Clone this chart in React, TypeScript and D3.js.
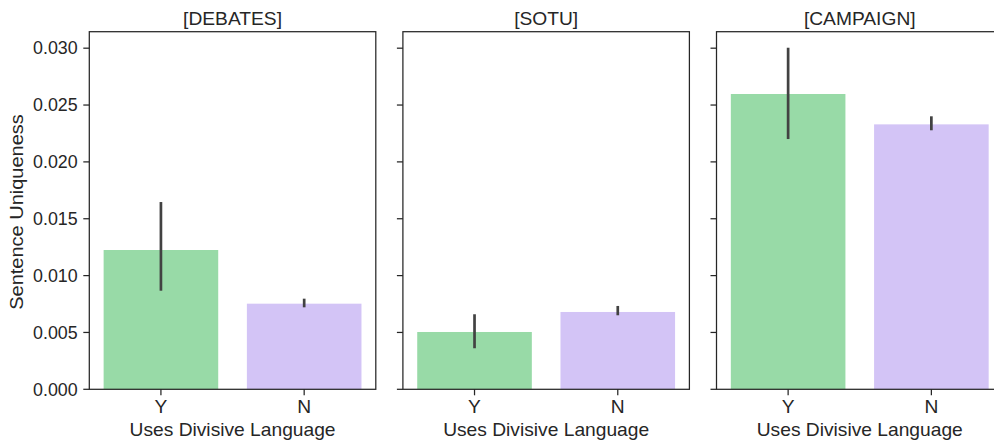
import React from "react";
import * as d3 from "d3";

const panels = ["[DEBATES]", "[SOTU]", "[CAMPAIGN]"];
const categories = ["Y", "N"];
const means = [
  [0.01225, 0.00753],
  [0.00504, 0.0068],
  [0.02597, 0.0233],
];
const ciLow = [
  [0.00867, 0.00721],
  [0.00361, 0.00651],
  [0.02201, 0.02278],
];
const ciHigh = [
  [0.01647, 0.00797],
  [0.0066, 0.00733],
  [0.03004, 0.02401],
];
const yTicks = [0, 0.005, 0.01, 0.015, 0.02, 0.025, 0.03];
const colors = ["#98daa7", "#d3c4f6"];

const W = 994;
const H = 443;
const panelLefts = [89.3, 402.9, 716.5];
const panelW = 286.5;
const top = 31.7;
const bottom = 389.3;
const text = "#262626";
const font = "'Liberation Sans', Arial, sans-serif";

function T(props: {
  x: number;
  y: number;
  sx: number;
  size: number;
  anchor: string;
  dy?: string;
  children: React.ReactNode;
}) {
  return (
    <text
      transform={`translate(${props.x},${props.y}) scale(${props.sx},1)`}
      textAnchor={props.anchor}
      dy={props.dy}
      fontSize={props.size}
      fill={text}
    >
      {props.children}
    </text>
  );
}

export default function App() {
  const y = d3.scaleLinear().domain([0, 0.03145]).range([bottom, top]);
  return (
    <svg width={W} height={H} style={{ position: "absolute", left: 0, top: 0 }} fontFamily={font}>
      <rect width={W} height={H} fill="white" />
      {panels.map((p, pi) => {
        const x = d3
          .scaleBand()
          .domain(categories)
          .range([panelLefts[pi], panelLefts[pi] + panelW])
          .paddingInner(0.2)
          .paddingOuter(0.1);
        const cx = (c: string) => (x(c) as number) + x.bandwidth() / 2;
        return (
          <g key={p}>
            {categories.map((c, ci) => (
              <rect
                key={c}
                x={x(c)}
                y={y(means[pi][ci])}
                width={x.bandwidth()}
                height={bottom - y(means[pi][ci])}
                fill={colors[ci]}
              />
            ))}
            {categories.map((c, ci) => (
              <line
                key={c}
                x1={cx(c)}
                x2={cx(c)}
                y1={y(ciLow[pi][ci])}
                y2={y(ciHigh[pi][ci])}
                stroke="#424242"
                strokeWidth={2.7}
              />
            ))}
            <rect
              x={panelLefts[pi]}
              y={top}
              width={panelW}
              height={bottom - top}
              fill="none"
              stroke={text}
              strokeWidth={1.25}
            />
            {yTicks.map((t) => (
              <g key={t}>
                <line
                  x1={panelLefts[pi] - 6}
                  x2={panelLefts[pi]}
                  y1={y(t)}
                  y2={y(t)}
                  stroke={text}
                  strokeWidth={1.25}
                />
                {pi === 0 && (
                  <T x={panelLefts[pi] - 11.6} y={y(t)} dy="0.358em" sx={1.02} size={17.5} anchor="end">
                    {t.toFixed(3)}
                  </T>
                )}
              </g>
            ))}
            {categories.map((c) => (
              <g key={c}>
                <line x1={cx(c)} x2={cx(c)} y1={bottom} y2={bottom + 6} stroke={text} strokeWidth={1.25} />
                <T x={cx(c)} y={412.7} sx={1.05} size={18.3} anchor="middle">
                  {c}
                </T>
              </g>
            ))}
            <T x={panelLefts[pi] + panelW / 2} y={435.7} sx={1.05} size={18.3} anchor="middle">
              Uses Divisive Language
            </T>
            <T x={panelLefts[pi] + panelW / 2} y={25.3} sx={1.05} size={18.3} anchor="middle">
              {p}
            </T>
          </g>
        );
      })}
      <text
        transform={`translate(23,${(114 + 310) / 2}) rotate(-90) scale(1.08,1)`}
        textAnchor="middle"
        fontSize={18.5}
        fill={text}
      >
        Sentence Uniqueness
      </text>
    </svg>
  );
}
